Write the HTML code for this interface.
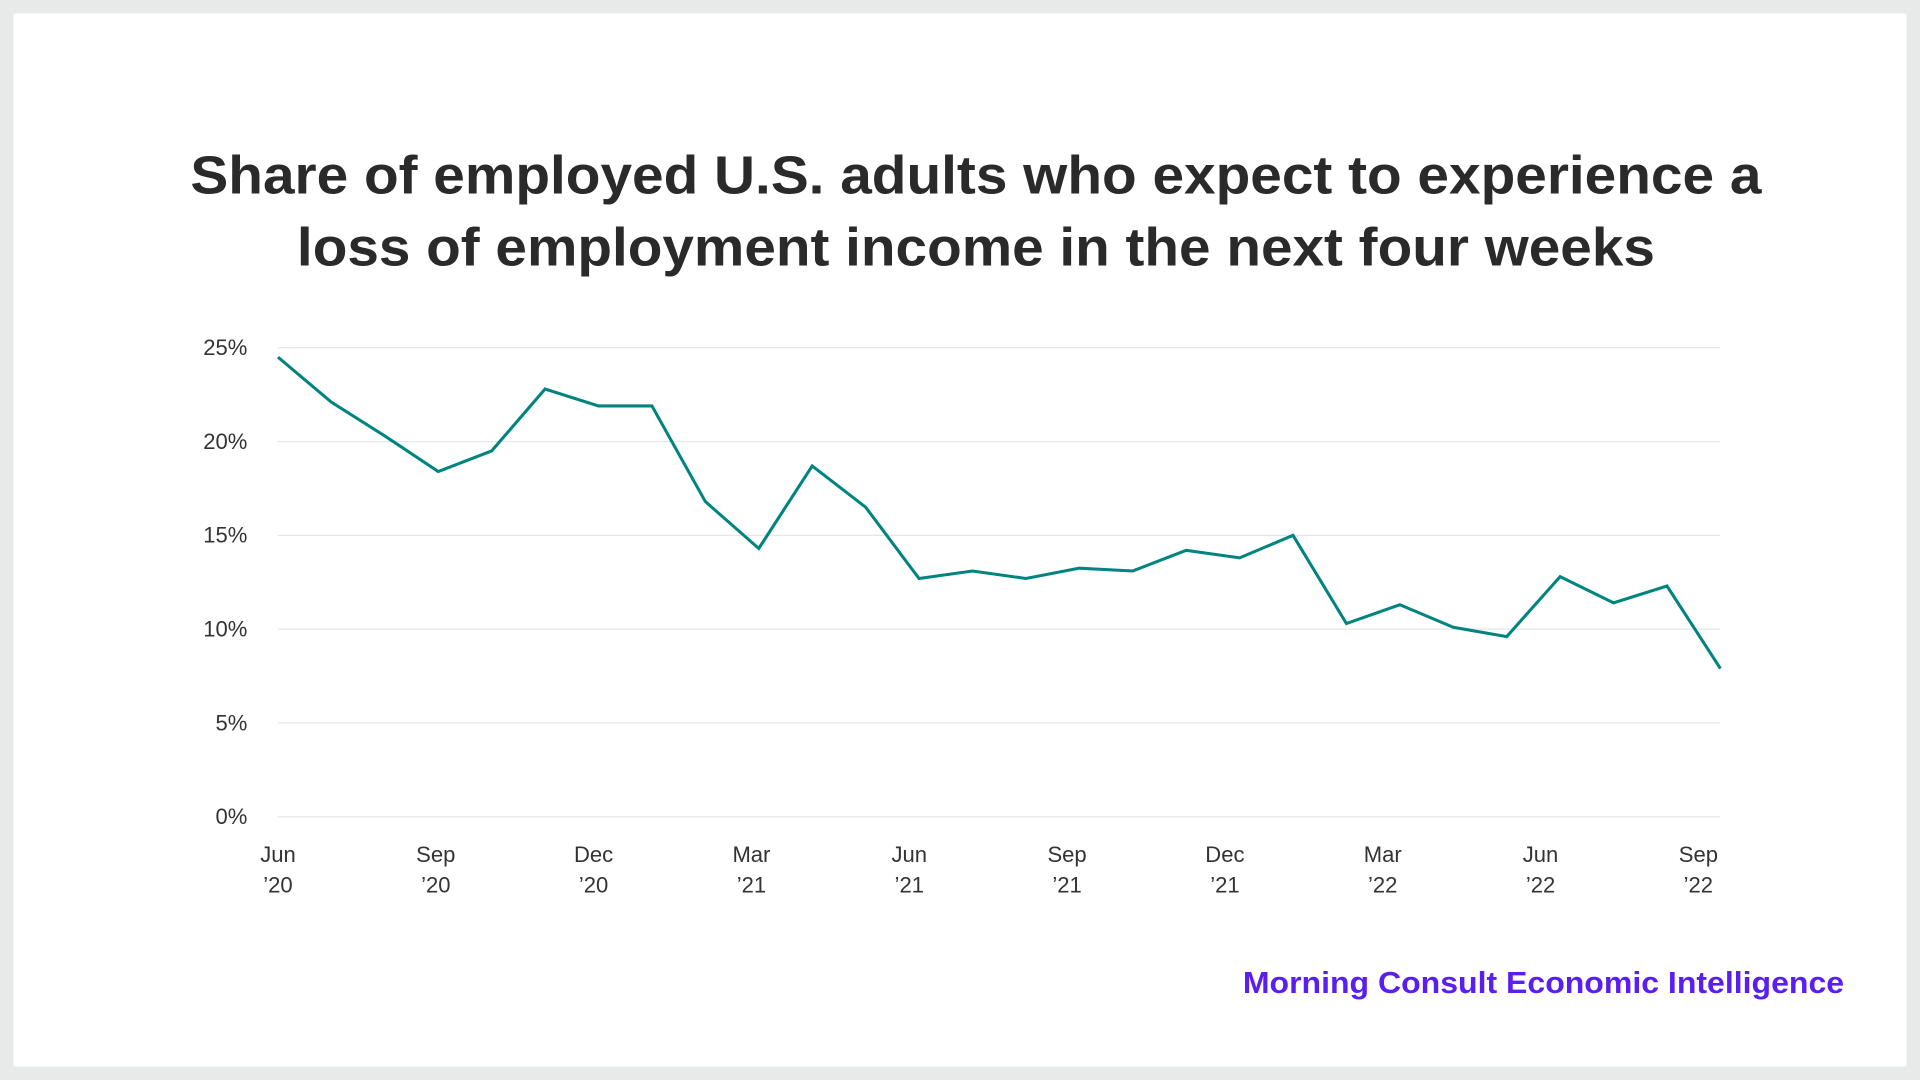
<!DOCTYPE html>
<html><head><meta charset="utf-8"><style>
html,body{margin:0;padding:0;width:1920px;height:1080px;overflow:hidden;background:#e8eae9}
svg{display:block}
text{font-family:"Liberation Sans",sans-serif}
</style></head><body>
<svg width="1920" height="1080" viewBox="0 0 1568 882" xmlns="http://www.w3.org/2000/svg">
<rect x="0" y="0" width="1568" height="882" fill="#e8eae9"/>
<rect x="11" y="11" width="1546" height="860" fill="#ffffff"/>
<text x="797" y="158" text-anchor="middle" font-size="44" font-weight="bold" fill="#2a2a2a" textLength="1283" lengthAdjust="spacingAndGlyphs">Share of employed U.S. adults who expect to experience a</text>
<text x="797" y="217" text-anchor="middle" font-size="44" font-weight="bold" fill="#2a2a2a" textLength="1109" lengthAdjust="spacingAndGlyphs">loss of employment income in the next four weeks</text>
<g id="grid"></g><g id="yticks"></g><g id="xticks"></g><g id="series"></g>
<text x="1506" y="811" text-anchor="end" font-size="25" font-weight="bold" fill="#5a1ff0" textLength="491" lengthAdjust="spacingAndGlyphs">Morning Consult Economic Intelligence</text>
</svg>
<script>
const yTickValues=[0,5,10,15,20,25];
const xTickMonths=["Jun","Sep","Dec","Mar","Jun","Sep","Dec","Mar","Jun","Sep"];
const xTickYears=["’20","’20","’20","’21","’21","’21","’21","’22","’22","’22"];
const xTickIndex=[0,3,6,9,12,15,18,21,24,27];
const values=[24.5,22.1,20.3,18.4,19.5,22.8,21.9,21.9,16.8,14.3,18.7,16.5,12.7,13.1,12.7,13.25,13.1,14.2,13.8,15.0,10.3,11.3,10.1,9.6,12.8,11.4,12.3,7.9];
const NS="http://www.w3.org/2000/svg";
const x0=227,x1=1405,y0=667,y1=284;
const y=v=>y0-(v/25)*(y0-y1);
const xTick=i=>x0+i*(1387-x0)/27;
const x=i=>x0+i*(x1-x0)/(values.length-1);
function mk(t,a,p){const e=document.createElementNS(NS,t);for(const k in a)e.setAttribute(k,a[k]);document.getElementById(p).appendChild(e);return e;}
yTickValues.forEach(v=>{
 const l=mk('line',{x1:x0,x2:x1,y1:y(v),y2:y(v),stroke:'#e6e6e6','stroke-width':1},'grid');
 
 
 const t=mk('text',{x:202,y:y(v)+6,'text-anchor':'end','font-size':18,fill:'#333'},'yticks');
 
 
 t.textContent=v+'%';
});
xTickIndex.forEach((ix,k)=>{
 const t=mk('text',{x:xTick(ix),y:704,'text-anchor':'middle','font-size':18,fill:'#333'},'xticks');
 
 
 t.textContent=xTickMonths[k];
 const t2=mk('text',{x:xTick(ix),y:729,'text-anchor':'middle','font-size':18,fill:'#333'},'xticks');
 
 
 t2.textContent=xTickYears[k];
});
const p=mk('polyline',{points:values.map((v,i)=>x(i)+','+y(v)).join(' '),fill:'none',stroke:'#00847f','stroke-width':2.5,'stroke-linejoin':'miter'},'series');


</script>
</body></html>
